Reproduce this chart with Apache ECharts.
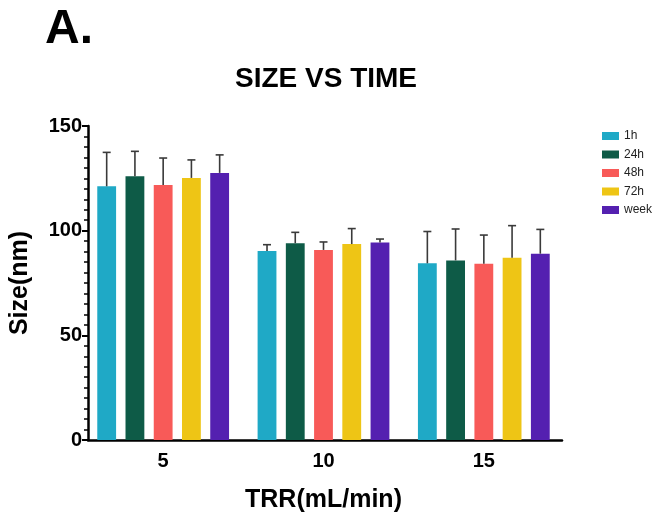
<!DOCTYPE html>
<html>
<head>
<meta charset="utf-8">
<script src="https://cdn.jsdelivr.net/npm/echarts@6/dist/echarts.min.js"></script>
<style>html,body{margin:0;padding:0;background:#fff;}#c{width:656px;height:519px;}</style>
</head>
<body>
<div id="c"></div>
<script>
const categories = ['5', '10', '15'];
const seriesNames = ['1h', '24h', '48h', '72h', 'week'];
const mean1h   = [121.2, 90.3, 84.4];
const mean24h  = [126.0, 94.0, 85.8];
const mean48h  = [121.8, 90.8, 84.2];
const mean72h  = [125.2, 93.6, 87.1];
const meanWeek = [127.6, 94.4, 89.0];
const sd1h   = [16.2, 3.0, 15.2];
const sd24h  = [11.9, 5.2, 15.0];
const sd48h  = [12.9, 3.8, 13.7];
const sd72h  = [8.6, 7.4, 15.3];
const sdWeek = [8.6, 1.6, 11.6];
const yTicks = [0, 50, 100, 150];

const means = [mean1h, mean24h, mean48h, mean72h, meanWeek];
const sds = [sd1h, sd24h, sd48h, sd72h, sdWeek];
const colors = ['#1FA9C6', '#0E5B47', '#F85A58', '#EEC515', '#5420B0'];
const FONT = '"Liberation Sans", Arial, sans-serif';
const CAT_GAP = 0.178, BAR_GAP = 0.5, N = seriesNames.length;

const series = [];
means.forEach((m, i) => {
  series.push({
    name: seriesNames[i], type: 'bar', data: m, xAxisIndex: 0, yAxisIndex: 0,
    barCategoryGap: (CAT_GAP * 100) + '%', barGap: (BAR_GAP * 100) + '%',
    itemStyle: { color: colors[i] }
  });
});
means.forEach((m, i) => {
  series.push({
    type: 'custom', name: seriesNames[i] + ' err', silent: true, z: 3,
    xAxisIndex: 0, yAxisIndex: 0,
    data: m.map((v, k) => [k, v, v + sds[i][k]]),
    renderItem: function (params, api) {
      const k = api.value(0);
      const catW = api.size([1, 0])[0];
      const used = catW * (1 - CAT_GAP);
      const bw = used / (N + (N - 1) * BAR_GAP);
      const off = -used / 2 + bw / 2 + i * bw * (1 + BAR_GAP);
      const p0 = api.coord([k, api.value(1)]);
      const p1 = api.coord([k, api.value(2)]);
      const x = p0[0] + off;
      const st = { stroke: '#3a3a3a', lineWidth: 1.6 };
      return { type: 'group', children: [
        { type: 'line', shape: { x1: x, y1: p0[1], x2: x, y2: p1[1] }, style: st },
        { type: 'line', shape: { x1: x - 4, y1: p1[1], x2: x + 4, y2: p1[1] }, style: st }
      ]};
    }
  });
});

const chart = echarts.init(document.getElementById('c'));
chart.setOption({
  animation: false,
  textStyle: { fontFamily: FONT },
  title: [
    { text: 'A.', left: 40, top: 1, textStyle: { fontSize: 48, fontWeight: 'bold', color: '#000', fontFamily: FONT } },
    { text: 'SIZE VS TIME', left: 230, top: 60, textStyle: { fontSize: 28, fontWeight: 'bold', color: '#000', fontFamily: FONT } }
  ],
  legend: {
    orient: 'vertical', left: 597, top: 125, itemWidth: 17, itemHeight: 8, itemGap: 6.5,
    icon: 'rect', data: seriesNames,
    textStyle: { fontSize: 12, color: '#222', fontFamily: FONT }
  },
  grid: [
    { left: 83, right: 92, top: 126, bottom: 79, containLabel: false },
    { left: 88, right: 94, top: 126, bottom: 79, containLabel: false }
  ],
  xAxis: [
    {
      gridIndex: 0, type: 'category', data: categories,
      name: 'TRR(mL/min)', nameLocation: 'middle', nameGap: 48,
      nameTextStyle: { fontSize: 25, fontWeight: 'bold', color: '#000', fontFamily: FONT },
      axisLine: { show: false },
      axisTick: { alignWithLabel: true, inside: true, length: 7, lineStyle: { color: '#000', width: 2 } },
      axisLabel: { fontSize: 20, fontWeight: 'bold', color: '#000', margin: 11, fontFamily: FONT }
    },
    {
      gridIndex: 1, type: 'category', data: categories,
      axisLine: { show: true, lineStyle: { color: '#000', width: 2.5 } },
      axisTick: { show: false }, axisLabel: { show: false }
    }
  ],
  yAxis: [
    {
      gridIndex: 0, type: 'value', min: 0, max: 150, interval: 50, show: false
    },
    {
      gridIndex: 1, type: 'value', min: 0, max: 150, interval: 50,
      name: 'Size(nm)', nameLocation: 'middle', nameGap: 55,
      nameTextStyle: { fontSize: 25, fontWeight: 'bold', color: '#000', fontFamily: FONT },
      axisLine: { show: true, lineStyle: { color: '#000', width: 2.5 } },
      axisTick: { show: true, length: 6, lineStyle: { color: '#000', width: 2 } },
      minorTick: { show: true, splitNumber: 10, length: 4, lineStyle: { color: '#000', width: 1.5 } },
      splitLine: { show: false },
      axisLabel: { fontSize: 20, fontWeight: 'bold', color: '#000', margin: 6, fontFamily: FONT,
        formatter: v => yTicks.includes(v) ? String(v) : '' }
    }
  ],
  series: series
});
</script>
</body>
</html>
